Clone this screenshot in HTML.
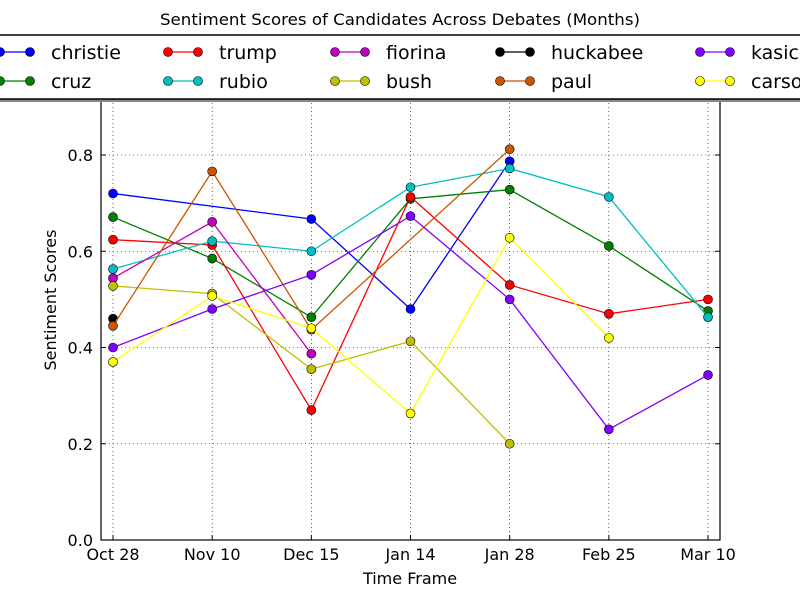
<!DOCTYPE html>
<html><head><meta charset="utf-8"><style>
body{margin:0;background:#fff;}
svg{font-family:"DejaVu Sans","Liberation Sans",sans-serif;}
</style></head><body>
<svg id="chart" width="800" height="600" xmlns="http://www.w3.org/2000/svg">
<rect width="800" height="600" fill="#fff"/>
<text x="160" y="25" font-size="16" textLength="480" lengthAdjust="spacingAndGlyphs">Sentiment Scores of Candidates Across Debates (Months)</text>
<g id="plot"></g>
<g id="legend"></g>
</svg>
<script>
const categories=["Oct 28","Nov 10","Dec 15","Jan 14","Jan 28","Feb 25","Mar 10"];
const yTicks=[0.0,0.2,0.4,0.6,0.8];
const names=["christie","cruz","trump","rubio","fiorina","bush","huckabee","paul","kasich","carson"];
const colors=["#0000ff","#008000","#ff0000","#00bfbf","#bf00bf","#bfbf00","#000000","#cc5500","#7f00ff","#ffff00"];
const christie=[0.72,null,0.667,0.48,0.787,null,null];
const cruz=[0.671,0.585,0.463,0.709,0.728,0.611,0.476];
const trump=[0.624,0.613,0.27,0.713,0.53,0.47,0.5];
const rubio=[0.563,0.621,0.6,0.733,0.772,0.713,0.463];
const fiorina=[0.544,0.661,0.387,null,null,null,null];
const bush=[0.528,0.512,0.355,0.413,0.2,null,null];
const huckabee=[0.46,null,null,null,null,null,null];
const paul=[0.445,0.766,0.437,null,0.812,null,null];
const kasich=[0.4,0.48,0.551,0.673,0.5,0.23,0.343];
const carson=[0.37,0.507,0.44,0.263,0.628,0.42,null];
const series=[christie,cruz,trump,rubio,fiorina,bush,huckabee,paul,kasich,carson];
const L=101,R=720,B=540,T=59;
const xs=i=>113+i*99.17;
const ys=v=>B-(v)*481.25;
const NS="http://www.w3.org/2000/svg";
const plot=document.getElementById('plot');
function mk(t,a,p){const e=document.createElementNS(NS,t);for(const k in a)e.setAttribute(k,a[k]);(p||plot).appendChild(e);return e;}
categories.forEach((c,i)=>{
 const g=mk('line',{x1:xs(i),x2:xs(i),y1:T,y2:B,stroke:'#000','stroke-width':0.6,'stroke-dasharray':'1,3'});
 
 
 const t=mk('text',{x:xs(i),y:B+20,'text-anchor':'middle','font-size':16});
 t.textContent=c;
 
 
 mk('line',{x1:xs(i),x2:xs(i),y1:B,y2:B-5,stroke:'#000'});
 mk('line',{x1:xs(i),x2:xs(i),y1:T,y2:T+5,stroke:'#000'});
});
yTicks.forEach(v=>{
 const g=mk('line',{x1:L,x2:R,y1:ys(v),y2:ys(v),stroke:'#000','stroke-width':0.6,'stroke-dasharray':'1,3'});
 
 
 const t=mk('text',{x:L-8,y:ys(v)+6,'text-anchor':'end','font-size':16});
 t.textContent=v.toFixed(1);
 
 
 mk('line',{x1:L,x2:L+5,y1:ys(v),y2:ys(v),stroke:'#000'});
 mk('line',{x1:R,x2:R-5,y1:ys(v),y2:ys(v),stroke:'#000'});
});
const fr=mk('rect',{x:L,y:T,width:R-L,height:B-T,fill:'none',stroke:'#000','stroke-width':1.2});


series.forEach((s,k)=>{
 const pts=[];s.forEach((v,i)=>{if(v!==null)pts.push([xs(i),ys(v)]);});
 const pl=mk('polyline',{points:pts.map(p=>p.join(',')).join(' '),fill:'none',stroke:colors[k],'stroke-width':1.3});
 
 
 pts.forEach(p=>{
  const c=mk('circle',{cx:p[0],cy:p[1],r:4.5,fill:colors[k],stroke:'#000','stroke-width':0.6});
  
  
 });
});
const xl=mk('text',{x:410,y:584,'text-anchor':'middle','font-size':16});
xl.textContent='Time Frame';


const yl=mk('text',{x:56,y:300,'text-anchor':'middle','font-size':16,transform:'rotate(-90 56 300)'});
yl.textContent='Sentiment Scores';


const lg=document.getElementById('legend');
mk('rect',{x:-10,y:37,width:820,height:65,fill:'#888'},lg);
const box=mk('rect',{x:-10,y:35,width:820,height:64,fill:'#fff',stroke:'#000','stroke-width':1.5},lg);


const colX=[0,168,335,500,700];
names.forEach((n,k)=>{
 const col=Math.floor(k/2),row=k%2;
 const x=colX[col],y=52+row*29;
 const g=mk('g',{},lg);
 
 
 mk('line',{x1:x,x2:x+30,y1:y,y2:y,stroke:colors[k],'stroke-width':1.3},g);
 mk('circle',{cx:x,cy:y,r:4.5,fill:colors[k],stroke:'#000','stroke-width':0.6},g);
 mk('circle',{cx:x+30,cy:y,r:4.5,fill:colors[k],stroke:'#000','stroke-width':0.6},g);
 const t=mk('text',{x:x+51,y:y+7,'font-size':19},g);
 t.textContent=n;
});
</script>
</body></html>
